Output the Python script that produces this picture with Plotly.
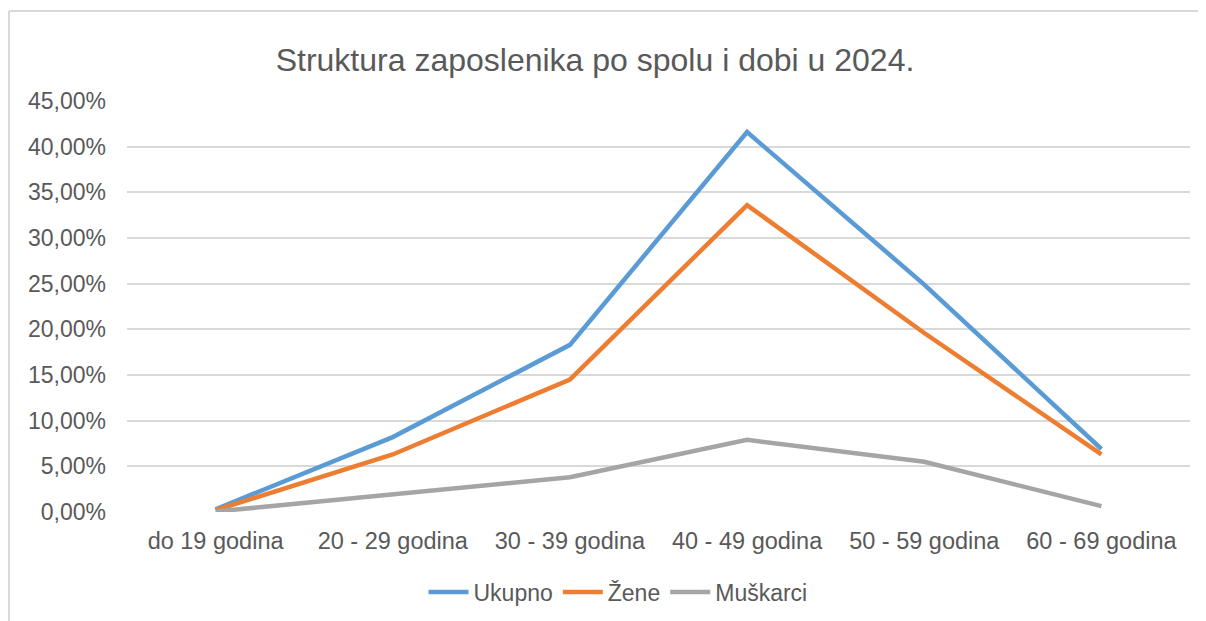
import plotly.graph_objects as go

# data
categories = ["do 19 godina", "20 - 29 godina", "30 - 39 godina",
              "40 - 49 godina", "50 - 59 godina", "60 - 69 godina"]
ukupno = [0.003, 0.082, 0.183, 0.416, 0.249, 0.069]
zene = [0.002, 0.063, 0.145, 0.336, 0.196, 0.063]
muskarci = [0.0005, 0.019, 0.038, 0.079, 0.055, 0.0065]

# page body adds an 8px offset, so coordinates below are screen minus 8
OFF = 8
W, H = 1206 - OFF, 621 - OFF
ml, mr = 127 - OFF, W - (1190 - OFF)
mt, mb = 101 - OFF, H - (512 - OFF)
font = "Arial, Liberation Sans, sans-serif"
grey_txt = "#595959"

fig = go.Figure()
fig.add_trace(go.Scatter(x=categories, y=ukupno, name="Ukupno", mode="lines",
                         line=dict(color="#5B9BD5", width=4.5)))
fig.add_trace(go.Scatter(x=categories, y=zene, name="Žene", mode="lines",
                         line=dict(color="#ED7D31", width=4.5)))
fig.add_trace(go.Scatter(x=categories, y=muskarci, name="Muškarci", mode="lines",
                         line=dict(color="#A5A5A5", width=4.5)))

# outer chart border (light grey frame, open on the right)
pw, ph = W - ml - mr, H - mt - mb
x_left = (1 - ml) / pw
y_top = (H - mb - (11 - OFF)) / ph
fig.add_shape(type="line", xref="paper", yref="paper",
              x0=x_left, x1=x_left, y0=(H - mb - 700) / ph, y1=y_top,
              line=dict(color="#D9D9D9", width=2), layer="below")
fig.add_shape(type="line", xref="paper", yref="paper",
              x0=x_left, x1=(1300 - ml) / pw, y0=y_top, y1=y_top,
              line=dict(color="#D9D9D9", width=2), layer="below")

fig.update_layout(
    width=W, height=H,
    margin=dict(l=ml, r=mr, t=mt, b=mb),
    paper_bgcolor="white", plot_bgcolor="white",
    separators=", ",
    font=dict(family=font, size=23, color=grey_txt),
    title=dict(text="Struktura zaposlenika po spolu i dobi u 2024.",
               x=(595 - OFF) / W, xanchor="center",
               y=1 - (60 - OFF) / H, yanchor="middle",
               font=dict(size=32, color=grey_txt)),
    xaxis=dict(range=[-0.5, 5.5], showgrid=False, showline=False,
               ticks="", ticklabelstandoff=12,
               tickfont=dict(size=23.5, color=grey_txt)),
    yaxis=dict(range=[0, 0.45], dtick=0.05, tickformat=".2%",
               gridcolor="#D9D9D9", gridwidth=1.5, zeroline=False,
               showline=False, ticks="", ticklabelstandoff=20,
               tickfont=dict(size=23, color=grey_txt)),
    legend=dict(orientation="h", x=(618 - OFF) / W, xanchor="center",
                xref="container", y=1 - (592 - OFF) / H, yref="container",
                yanchor="middle", font=dict(size=23, color=grey_txt),
                itemwidth=40),
    showlegend=True,
)

fig.write_html("out.html")
